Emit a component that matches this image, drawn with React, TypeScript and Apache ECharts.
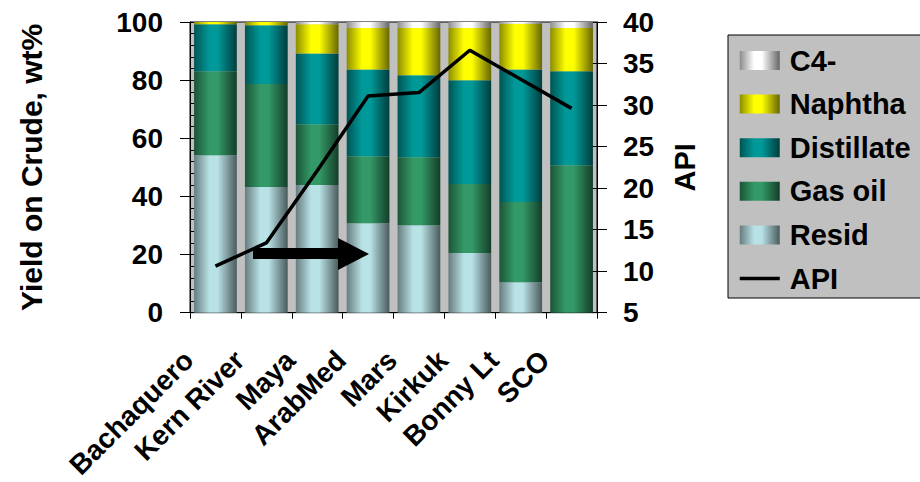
import React, { useEffect, useRef } from "react";
import * as echarts from "echarts";

// Crude oils and their yield cuts (wt% on crude), stacked bottom to top
const crudes = ["Bachaquero", "Kern River", "Maya", "ArabMed", "Mars", "Kirkuk", "Bonny Lt", "SCO"];
const resid = [54.2, 43.2, 43.9, 30.8, 30.1, 20.5, 10.5, 0];
const gasOil = [28.9, 35.5, 20.9, 23.0, 23.4, 23.8, 27.6, 50.7];
const distillate = [16.1, 20.2, 24.4, 29.9, 28.2, 35.7, 45.6, 32.4];
const naphtha = [0.8, 1.1, 10.0, 14.2, 16.2, 17.9, 15.7, 14.8];
const c4 = [0, 0, 0.8, 2.1, 2.1, 2.1, 0.6, 2.1];
// API gravity on the right-hand axis
const api = [10.6, 13.4, 22.1, 31.1, 31.5, 36.6, 33.1, 29.6];

const legendOrder = ["C4-", "Naphtha", "Distillate", "Gas oil", "Resid", "API"];

const FONT = "'Liberation Sans', Arial, Helvetica, sans-serif";

function shade(hex: string, f: number): string {
  const n = parseInt(hex.slice(1), 16);
  const r = Math.round(((n >> 16) & 255) * f);
  const g = Math.round(((n >> 8) & 255) * f);
  const b = Math.round((n & 255) * f);
  return `rgb(${r},${g},${b})`;
}

// Horizontal shading that gives each bar a rounded, cylinder-like look
function cylinder(hex: string) {
  return new echarts.graphic.LinearGradient(0, 0, 1, 0, [
    { offset: 0, color: shade(hex, 0.55) },
    { offset: 0.36, color: hex },
    { offset: 0.55, color: hex },
    { offset: 1, color: shade(hex, 0.4) },
  ]);
}

const cutColors: Record<string, string> = {
  Resid: "#b9e2e6",
  "Gas oil": "#339966",
  Distillate: "#009999",
  Naphtha: "#ffff00",
  "C4-": "#ffffff",
};

export default function App() {
  const ref = useRef<HTMLDivElement>(null);

  useEffect(() => {
    document.body.style.margin = "0";
    if (!ref.current) return;
    const chart = echarts.init(ref.current, undefined, { renderer: "svg" });

    const label = { color: "#000", fontFamily: FONT, fontWeight: "bold" as const, fontSize: 28 };

    const barSeries = (name: string, data: number[]) => ({
      name,
      type: "bar" as const,
      stack: "yield",
      data,
      barCategoryGap: "16%",
      itemStyle: { color: cylinder(cutColors[name]) },
      emphasis: { disabled: true },
    });

    chart.setOption({
      animation: false,
      backgroundColor: "#ffffff",
      grid: {
        left: 190,
        right: 323,
        top: 22,
        bottom: 169,
        show: true,
        backgroundColor: "#c0c0c0",
        borderColor: "#000",
        borderWidth: 1,
      },
      legend: {
        orient: "vertical",
        left: 728,
        top: 35,
        padding: [11, 12, 5, 10],
        backgroundColor: "#c0c0c0",
        borderColor: "#000",
        borderWidth: 1,
        itemWidth: 40,
        itemHeight: 19,
        itemGap: 14.6,
        selectedMode: false,
        textStyle: { ...label, fontSize: 29, padding: [0, 0, 0, 5] },
        data: legendOrder.map((n) =>
          n === "API"
            ? { name: n, itemStyle: { opacity: 0 }, lineStyle: { width: 3.5, color: "#000" } }
            : { name: n, icon: "rect" }
        ),
      },
      xAxis: {
        type: "category",
        data: crudes,
        boundaryGap: true,
        axisLine: { lineStyle: { color: "#000", width: 1 } },
        axisTick: { show: true, length: 6, alignWithLabel: false, lineStyle: { color: "#000" } },
        axisLabel: {
          ...label,
          interval: 0,
          rotate: 45,
          margin: 16,
          padding: [0, 38, 0, 0],
        },
      },
      yAxis: [
        {
          type: "value",
          position: "left",
          min: 0,
          max: 100,
          interval: 20,
          name: "Yield on Crude, wt%",
          nameLocation: "middle",
          nameGap: 144,
          nameTextStyle: { ...label, fontSize: 30 },
          axisLine: { show: true, lineStyle: { color: "#000" } },
          axisTick: { show: true, length: 10, lineStyle: { color: "#000" } },
          axisLabel: { ...label, margin: 27 },
          splitLine: { show: false },
        },
        {
          // inner tick marks of the left axis
          type: "value",
          position: "left",
          min: 0,
          max: 100,
          interval: 20,
          axisLine: { show: false },
          axisTick: { show: true, inside: true, length: 7, lineStyle: { color: "#000" } },
          minorTick: { show: true, splitNumber: 5, length: 7, lineStyle: { color: "#000" } },
          axisLabel: { show: false },
          splitLine: { show: false },
        },
        {
          type: "value",
          position: "right",
          min: 5,
          max: 40,
          interval: 5,
          name: "API",
          nameLocation: "middle",
          nameGap: 73,
          nameTextStyle: { ...label, fontSize: 29 },
          axisLine: { show: true, lineStyle: { color: "#000" } },
          axisTick: { show: true, length: 10, lineStyle: { color: "#000" } },
          axisLabel: { ...label, margin: 26 },
          splitLine: { show: false },
        },
        {
          // inner tick marks of the right axis
          type: "value",
          position: "right",
          min: 5,
          max: 40,
          interval: 5,
          axisLine: { show: false },
          axisTick: { show: true, inside: true, length: 7, lineStyle: { color: "#000" } },
          axisLabel: { show: false },
          splitLine: { show: false },
        },
      ],
      series: [
        barSeries("Resid", resid),
        barSeries("Gas oil", gasOil),
        barSeries("Distillate", distillate),
        barSeries("Naphtha", naphtha),
        barSeries("C4-", c4),
        {
          name: "API",
          type: "line",
          yAxisIndex: 2,
          data: api,
          symbol: "none",
          lineStyle: { color: "#000", width: 3.5 },
          itemStyle: { color: "#000" },
          emphasis: { disabled: true },
          z: 5,
        },
      ],
      graphic: [
        {
          // direction-of-lighter-crude arrow
          type: "polygon",
          z: 10,
          shape: {
            points: [
              [253, 248],
              [338, 248],
              [338, 238],
              [369, 254],
              [338, 270],
              [338, 259],
              [253, 259],
            ],
          },
          style: { fill: "#000" },
        },
      ],
    });

    return () => chart.dispose();
  }, []);

  return <div ref={ref} style={{ width: 920, height: 482 }} />;
}
